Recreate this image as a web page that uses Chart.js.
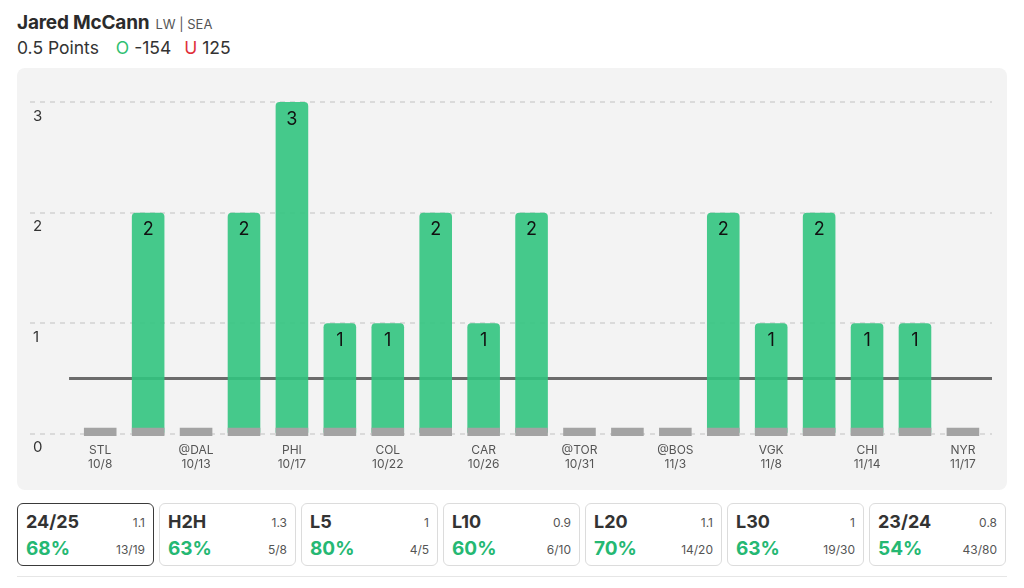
<!DOCTYPE html>
<html>
<head>
<meta charset="utf-8">
<script src="https://cdn.jsdelivr.net/npm/chart.js@4.4.1/dist/chart.umd.min.js"></script>
<style>
    body { margin: 0; background: #fff; font-family: "Inter", "Lato", sans-serif; color: #2d2d2d; }
    .page { position: relative; width: 1024px; height: 588px; overflow: hidden; }
    .titre { position: absolute; left: 17px; top: 11px; font-size: 19px; font-weight: 700; color: #2b2b2b; letter-spacing: -0.2px; }
    .titre span { font-size: 13px; font-weight: 400; color: #555; margin-left: 6px; letter-spacing: 0; }
    .ligne { position: absolute; left: 17px; top: 37px; font-size: 17.5px; color: #333; }
    .ligne .over { color: #2fbf71; margin-left: 12px; }
    .ligne .under { color: #e0303a; margin-left: 8px; }
    .panneau { position: absolute; left: 17px; top: 68px; width: 990px; height: 422px; background: #f3f3f3; border-radius: 8px; }
    .cartes { position: absolute; left: 17px; top: 503px; }
    .carte { position: absolute; top: 0; width: 137px; height: 63px; box-sizing: border-box; border: 1.5px solid #dcdcdc; border-radius: 6px; background: #fff; }
    .carte.active { border-color: #3a3a3a; }
    .carte .nom { position: absolute; left: 8px; top: 7px; font-size: 18px; font-weight: 700; color: #333; }
    .carte .moy { position: absolute; right: 8px; top: 11px; font-size: 12px; color: #555; }
    .carte .pct { position: absolute; left: 8px; top: 33px; font-size: 19px; font-weight: 700; color: #25b873; }
    .carte .frac { position: absolute; right: 8px; top: 38px; font-size: 12px; color: #555; }
    .trait { position: absolute; left: 17px; top: 576px; width: 990px; height: 1px; background: #e6e6e6; }
</style>
</head>
<body>
<div class="page">
    <div class="titre">Jared McCann<span>LW | SEA</span></div>
    <div class="ligne">0.5 Points <span class="over">O</span> -154 <span class="under">U</span> 125</div>
    <div class="panneau"><canvas id="graphique-points"></canvas></div>
    <div class="cartes"></div>
    <div class="trait"></div>
</div>
<script>
// points par match (19 matchs, ordre chronologique)
const points = [0, 2, 0, 2, 3, 1, 1, 2, 1, 2, 0, 0, 0, 2, 1, 2, 1, 1, 0]
// étiquettes affichées (un match sur deux)
const adversaires = ["STL", "@DAL", "PHI", "COL", "CAR", "@TOR", "@BOS", "VGK", "CHI", "NYR"]
const dates = ["10/8", "10/13", "10/17", "10/22", "10/26", "10/31", "11/3", "11/8", "11/14", "11/17"]
const ligneSeuil = 0.5
const graduationsY = [0, 1, 2, 3]

// cartes de résumé
const periodes = ["24/25", "H2H", "L5", "L10", "L20", "L30", "23/24"]
const moyennes = ["1.1", "1.3", "1", "0.9", "1.1", "1", "0.8"]
const pourcentages = ["68%", "63%", "80%", "60%", "70%", "63%", "54%"]
const fractions = ["13/19", "5/8", "4/5", "6/10", "14/20", "19/30", "43/80"]

const cartes = document.querySelector(".cartes")
for (let i = 0; i < periodes.length; i++) {
    const carte = document.createElement("div")
    carte.classList.add("carte")
    if (i === 0) carte.classList.add("active")
    carte.style.left = (i * 142) + "px"
    carte.innerHTML = `<div class="nom">${periodes[i]}</div><div class="moy">${moyennes[i]}</div>` +
        `<div class="pct">${pourcentages[i]}</div><div class="frac">${fractions[i]}</div>`
    cartes.appendChild(carte)
}

const barresVertes = points.map((v, i) => ({ x: i, y: v }))
const socles = points.map((v, i) => ({ x: i, y: [-0.02, 0.055] }))

// valeurs écrites dans les barres
const etiquettesBarres = {
    id: "etiquettesBarres",
    afterDatasetsDraw(chart) {
        const ctx = chart.ctx
        const meta = chart.getDatasetMeta(2)
        ctx.save()
        ctx.font = "18px Inter, sans-serif"
        ctx.fillStyle = "#111"
        ctx.textAlign = "center"
        ctx.textBaseline = "middle"
        meta.data.forEach((bar, i) => {
            if (points[i] > 0) ctx.fillText(points[i], bar.x, bar.y + 17)
        })
        ctx.restore()
    }
}

const canvas = document.querySelector("#graphique-points")
new Chart(canvas, {
    data: {
        datasets: [
            {
                type: "line",
                data: [{ x: -0.65, y: ligneSeuil }, { x: 18.65, y: ligneSeuil }],
                borderColor: "#6b6b6b",
                borderWidth: 3,
                pointRadius: 0,
                order: 3
            },
            {
                type: "bar",
                data: socles,
                backgroundColor: "#a3a3a3",
                barPercentage: 0.68,
                categoryPercentage: 1,
                grouped: false,
                order: 1
            },
            {
                type: "bar",
                data: barresVertes,
                backgroundColor: "rgba(50, 196, 127, 0.9)",
                borderRadius: { topLeft: 4, topRight: 4 },
                borderSkipped: "start",
                barPercentage: 0.68,
                categoryPercentage: 1,
                grouped: false,
                order: 2
            }
        ]
    },
    options: {
        responsive: true,
        maintainAspectRatio: false,
        animation: false,
        layout: { padding: { left: 7, right: 15, top: 12, bottom: 13 } },
        plugins: { legend: { display: false }, tooltip: { enabled: false } },
        scales: {
            x: {
                type: "linear",
                offset: false,
                min: -1.465,
                max: 18.607,
                grid: { display: false, drawTicks: false },
                border: { display: false },
                afterBuildTicks: (scale) => {
                    scale.ticks = dates.map((d, i) => ({ value: i * 2 }))
                },
                ticks: {
                    autoSkip: false,
                    maxRotation: 0,
                    padding: 5,
                    color: "#555",
                    font: { family: "Inter", size: 12 },
                    callback: (value, index) => [adversaires[index], dates[index]]
                }
            },
            y: {
                min: -0.04,
                max: 3.2,
                grid: { color: "#dadada", lineWidth: 2, drawTicks: false },
                border: { display: false, dash: [5, 5] },
                afterBuildTicks: (scale) => {
                    scale.ticks = graduationsY.map(v => ({ value: v }))
                },
                ticks: {
                    mirror: true,
                    padding: 3,
                    labelOffset: 14,
                    color: "#333",
                    font: { family: "Inter", size: 15 }
                }
            }
        }
    },
    plugins: [etiquettesBarres]
})
</script>
</body>
</html>
